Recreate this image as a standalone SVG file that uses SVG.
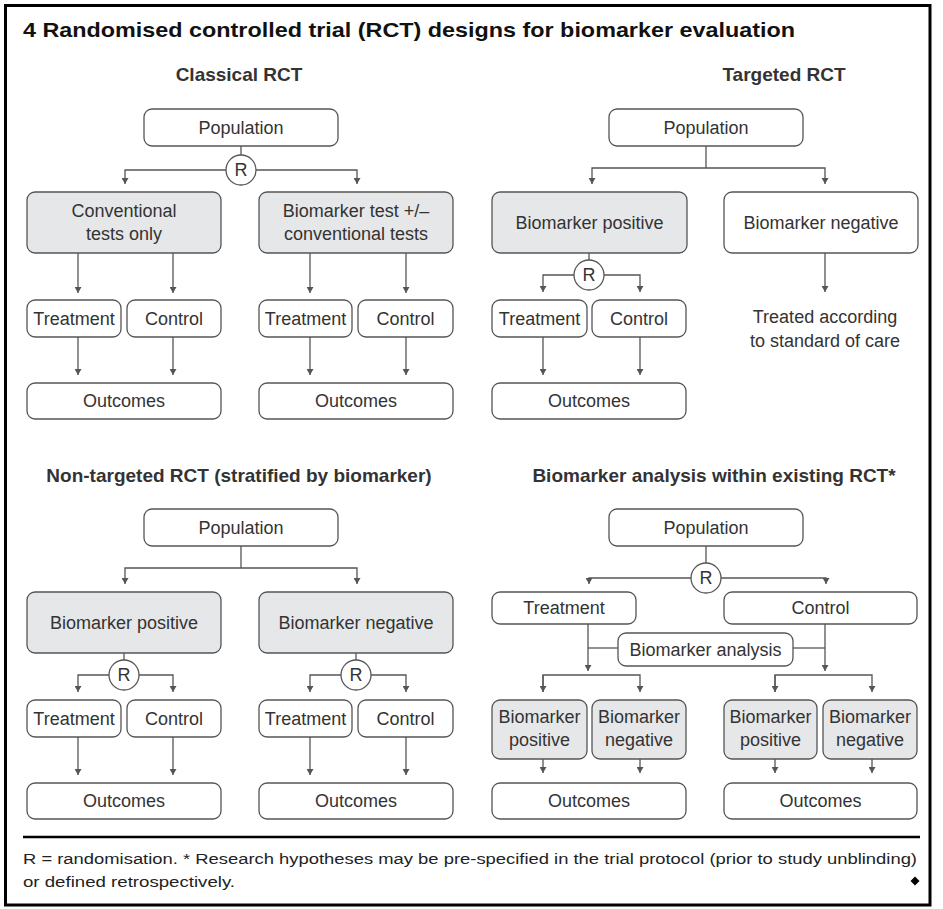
<svg xmlns="http://www.w3.org/2000/svg" width="943" height="909" viewBox="0 0 943 909">
<defs>
<marker id="ah" markerUnits="userSpaceOnUse" markerWidth="6" markerHeight="7" viewBox="0 0 6 7" refX="6" refY="3.5" orient="auto">
<path d="M0,0 L6,3.5 L0,7 Z" fill="#555"/>
</marker>
<style>
.box{fill:#fff;stroke:#555;stroke-width:1.3}
.grey{fill:#e6e7e8}
.ln{fill:none;stroke:#555;stroke-width:1.3}
.arr{marker-end:url(#ah)}
.t{font-family:"Liberation Sans",Arial,sans-serif;font-size:18px;fill:#333;text-anchor:middle}
.h{font-family:"Liberation Sans",Arial,sans-serif;font-size:19px;font-weight:bold;fill:#333;text-anchor:middle}
.f{font-family:"Liberation Sans",Arial,sans-serif;font-size:15.5px;fill:#222}
</style>
</defs>
<rect x="5.5" y="5.5" width="924.5" height="899.5" fill="#fff" stroke="#000" stroke-width="3"/>
<text x="23" y="37" font-family="Liberation Sans, Arial, sans-serif" font-size="21" font-weight="bold" fill="#111" textLength="772" lengthAdjust="spacingAndGlyphs">4 Randomised controlled trial (RCT) designs for biomarker evaluation</text>
<text class="h" x="239" y="81">Classical RCT</text>
<text class="h" x="784" y="81">Targeted RCT</text>
<text class="h" x="239" y="482">Non-targeted RCT (stratified by biomarker)</text>
<text class="h" x="714" y="482">Biomarker analysis within existing RCT*</text>

<g id="connectors">
<!-- TL -->
<path class="ln" d="M241,146 V155"/>
<path class="ln arr" d="M226,170 H125 V184"/>
<path class="ln arr" d="M256,170 H357 V184"/>
<path class="ln arr" d="M78,253 V293"/><path class="ln arr" d="M173,253 V293"/>
<path class="ln arr" d="M310,253 V293"/><path class="ln arr" d="M406,253 V293"/>
<path class="ln arr" d="M78,337 V375"/><path class="ln arr" d="M173,337 V375"/>
<path class="ln arr" d="M310,337 V375"/><path class="ln arr" d="M406,337 V375"/>
<!-- TR -->
<path class="ln" d="M706,146 V168"/>
<path class="ln arr" d="M706,168 H592 V184"/>
<path class="ln arr" d="M706,168 H825 V184"/>
<path class="ln" d="M589,253 V260"/>
<path class="ln arr" d="M574,275 H543 V292"/>
<path class="ln arr" d="M604,275 H640 V292"/>
<path class="ln arr" d="M543,337 V375"/><path class="ln arr" d="M640,337 V375"/>
<path class="ln arr" d="M825,253 V292"/>
<!-- BL -->
<path class="ln" d="M241,546 V568"/>
<path class="ln arr" d="M241,568 H125 V584"/>
<path class="ln arr" d="M241,568 H357 V584"/>
<path class="ln" d="M124,653 V660"/>
<path class="ln arr" d="M109,675 H78 V692"/>
<path class="ln arr" d="M139,675 H173 V692"/>
<path class="ln" d="M356,653 V660"/>
<path class="ln arr" d="M341,675 H310 V692"/>
<path class="ln arr" d="M371,675 H406 V692"/>
<path class="ln arr" d="M78,737 V775"/><path class="ln arr" d="M173,737 V775"/>
<path class="ln arr" d="M310,737 V775"/><path class="ln arr" d="M406,737 V775"/>
<!-- BR -->
<path class="ln" d="M706,546 V563"/>
<path class="ln arr" d="M691,578 H589 V584"/>
<path class="ln arr" d="M721,578 H826 V584"/>
<path class="ln arr" d="M588,624 V671"/>
<path class="ln arr" d="M825,624 V671"/>
<path class="ln" d="M588,648 H618"/>
<path class="ln" d="M793,648 H825"/>
<path class="ln arr" d="M543,692 V675 H640 V692"/>
<path class="ln arr" d="M543,675 V692"/>
<path class="ln arr" d="M775,692 V675 H872 V692"/>
<path class="ln arr" d="M775,675 V692"/>
<path class="ln arr" d="M543,759 V773"/><path class="ln arr" d="M640,759 V773"/>
<path class="ln arr" d="M775,759 V773"/><path class="ln arr" d="M872,759 V773"/>
</g>

<!-- TL nodes -->
<g id="tl-population"><rect class="box" x="144" y="109" width="194" height="37" rx="8"/><text class="t" x="241" y="134">Population</text></g>
<g id="tl-r"><circle class="box" cx="241" cy="170" r="15"/><text class="t" x="241" y="176">R</text></g>
<g id="tl-conv"><rect class="box grey" x="27" y="192" width="194" height="61" rx="8"/><text class="t" x="124" y="217">Conventional</text><text class="t" x="124" y="240">tests only</text></g>
<g id="tl-bio"><rect class="box grey" x="259" y="192" width="194" height="61" rx="8"/><text class="t" x="356" y="217">Biomarker test +/–</text><text class="t" x="356" y="240">conventional tests</text></g>
<g id="tl-treat1"><rect class="box" x="27" y="300" width="94" height="37" rx="8"/><text class="t" x="74" y="325">Treatment</text></g>
<g id="tl-ctrl1"><rect class="box" x="127" y="300" width="94" height="37" rx="8"/><text class="t" x="174" y="325">Control</text></g>
<g id="tl-treat2"><rect class="box" x="259" y="300" width="93" height="37" rx="8"/><text class="t" x="305.5" y="325">Treatment</text></g>
<g id="tl-ctrl2"><rect class="box" x="358" y="300" width="95" height="37" rx="8"/><text class="t" x="405.5" y="325">Control</text></g>
<g id="tl-out1"><rect class="box" x="27" y="383" width="194" height="36" rx="8"/><text class="t" x="124" y="407">Outcomes</text></g>
<g id="tl-out2"><rect class="box" x="259" y="383" width="194" height="36" rx="8"/><text class="t" x="356" y="407">Outcomes</text></g>

<!-- TR nodes -->
<g id="tr-population"><rect class="box" x="609" y="109" width="194" height="37" rx="8"/><text class="t" x="706" y="134">Population</text></g>
<g id="tr-pos"><rect class="box grey" x="492" y="192" width="195" height="61" rx="8"/><text class="t" x="589.5" y="229">Biomarker positive</text></g>
<g id="tr-neg"><rect class="box" x="724" y="192" width="194" height="61" rx="8"/><text class="t" x="821" y="229">Biomarker negative</text></g>
<g id="tr-r"><circle class="box" cx="589" cy="275" r="15"/><text class="t" x="589" y="281">R</text></g>
<g id="tr-treat"><rect class="box" x="492" y="300" width="95" height="37" rx="8"/><text class="t" x="539.5" y="325">Treatment</text></g>
<g id="tr-ctrl"><rect class="box" x="592" y="300" width="94" height="37" rx="8"/><text class="t" x="639" y="325">Control</text></g>
<g id="tr-out"><rect class="box" x="492" y="383" width="194" height="36" rx="8"/><text class="t" x="589" y="407">Outcomes</text></g>
<g id="tr-soc"><text class="t" x="825" y="323">Treated according</text><text class="t" x="825" y="347">to standard of care</text></g>

<!-- BL nodes -->
<g id="bl-population"><rect class="box" x="144" y="509" width="194" height="37" rx="8"/><text class="t" x="241" y="534">Population</text></g>
<g id="bl-pos"><rect class="box grey" x="27" y="592" width="194" height="61" rx="8"/><text class="t" x="124" y="629">Biomarker positive</text></g>
<g id="bl-neg"><rect class="box grey" x="259" y="592" width="194" height="61" rx="8"/><text class="t" x="356" y="629">Biomarker negative</text></g>
<g id="bl-r1"><circle class="box" cx="124" cy="675" r="15"/><text class="t" x="124" y="681">R</text></g>
<g id="bl-r2"><circle class="box" cx="356" cy="675" r="15"/><text class="t" x="356" y="681">R</text></g>
<g id="bl-treat1"><rect class="box" x="27" y="700" width="94" height="37" rx="8"/><text class="t" x="74" y="725">Treatment</text></g>
<g id="bl-ctrl1"><rect class="box" x="127" y="700" width="94" height="37" rx="8"/><text class="t" x="174" y="725">Control</text></g>
<g id="bl-treat2"><rect class="box" x="259" y="700" width="93" height="37" rx="8"/><text class="t" x="305.5" y="725">Treatment</text></g>
<g id="bl-ctrl2"><rect class="box" x="358" y="700" width="95" height="37" rx="8"/><text class="t" x="405.5" y="725">Control</text></g>
<g id="bl-out1"><rect class="box" x="27" y="783" width="194" height="36" rx="8"/><text class="t" x="124" y="807">Outcomes</text></g>
<g id="bl-out2"><rect class="box" x="259" y="783" width="194" height="36" rx="8"/><text class="t" x="356" y="807">Outcomes</text></g>

<!-- BR nodes -->
<g id="br-population"><rect class="box" x="609" y="509" width="194" height="37" rx="8"/><text class="t" x="706" y="534">Population</text></g>
<g id="br-r"><circle class="box" cx="706" cy="578" r="15"/><text class="t" x="706" y="584">R</text></g>
<g id="br-treat"><rect class="box" x="492" y="592" width="144" height="32" rx="8"/><text class="t" x="564" y="614">Treatment</text></g>
<g id="br-ctrl"><rect class="box" x="724" y="592" width="193" height="32" rx="8"/><text class="t" x="820.5" y="614">Control</text></g>
<g id="br-analysis"><rect class="box" x="618" y="633" width="175" height="33" rx="8"/><text class="t" x="705.5" y="656">Biomarker analysis</text></g>
<g id="br-pos1"><rect class="box grey" x="492" y="700" width="95" height="59" rx="8"/><text class="t" x="539.5" y="723">Biomarker</text><text class="t" x="539.5" y="746">positive</text></g>
<g id="br-neg1"><rect class="box grey" x="592" y="700" width="94" height="59" rx="8"/><text class="t" x="639" y="723">Biomarker</text><text class="t" x="639" y="746">negative</text></g>
<g id="br-pos2"><rect class="box grey" x="724" y="700" width="93" height="59" rx="8"/><text class="t" x="770.5" y="723">Biomarker</text><text class="t" x="770.5" y="746">positive</text></g>
<g id="br-neg2"><rect class="box grey" x="823" y="700" width="94" height="59" rx="8"/><text class="t" x="870" y="723">Biomarker</text><text class="t" x="870" y="746">negative</text></g>
<g id="br-out1"><rect class="box" x="492" y="783" width="194" height="36" rx="8"/><text class="t" x="589" y="807">Outcomes</text></g>
<g id="br-out2"><rect class="box" x="724" y="783" width="193" height="36" rx="8"/><text class="t" x="820.5" y="807">Outcomes</text></g>

<!-- footer -->
<line x1="23" y1="837" x2="920" y2="837" stroke="#000" stroke-width="2.5"/>
<text class="f" x="23" y="864" textLength="894" lengthAdjust="spacingAndGlyphs">R = randomisation. * Research hypotheses may be pre-specified in the trial protocol (prior to study unblinding)</text>
<text class="f" x="23" y="887" textLength="212" lengthAdjust="spacingAndGlyphs">or defined retrospectively.</text>
<path d="M915,876.5 L919.5,881 L915,885.5 L910.5,881 Z" fill="#000"/>
</svg>
